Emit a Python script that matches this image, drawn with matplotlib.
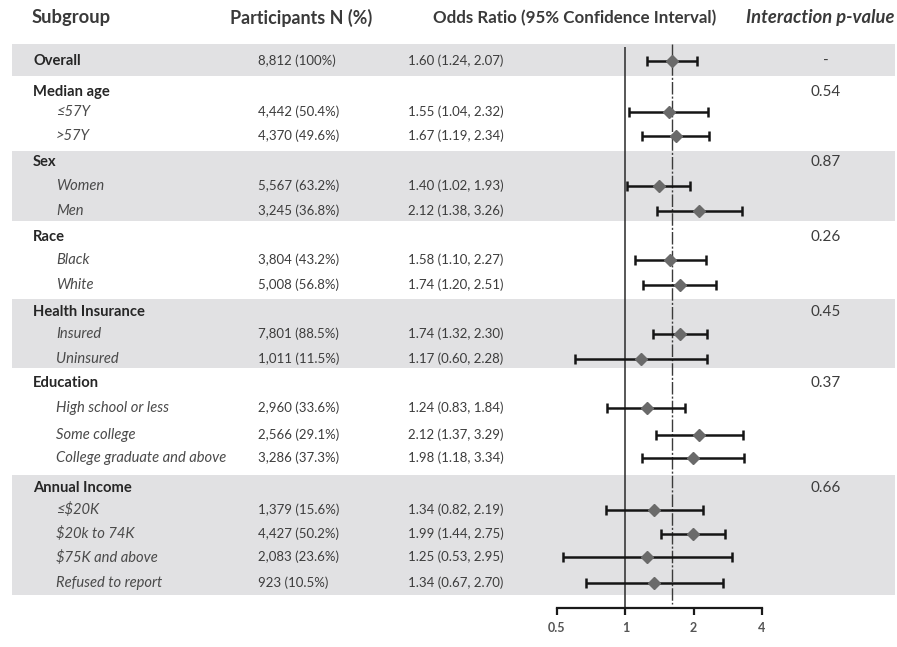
import matplotlib
matplotlib.use("Agg")
import matplotlib.pyplot as plt
import numpy as np

# ---------------- data ----------------
subgroups = ["Overall", "≤57Y", ">57Y", "Women", "Men", "Black", "White",
             "Insured", "Uninsured", "High school or less", "Some college",
             "College graduate and above", "≤$20K", "$20k to 74K",
             "$75K and above", "Refused to report"]
participants = ["8,812 (100%)", "4,442 (50.4%)", "4,370 (49.6%)", "5,567 (63.2%)",
                "3,245 (36.8%)", "3,804 (43.2%)", "5,008 (56.8%)", "7,801 (88.5%)",
                "1,011 (11.5%)", "2,960 (33.6%)", "2,566 (29.1%)", "3,286 (37.3%)",
                "1,379 (15.6%)", "4,427 (50.2%)", "2,083 (23.6%)", "923 (10.5%)"]
odds_ratio = [1.60, 1.55, 1.67, 1.40, 2.12, 1.58, 1.74, 1.74, 1.17, 1.24, 2.12,
              1.98, 1.34, 1.99, 1.25, 1.34]
ci_lower = [1.24, 1.04, 1.19, 1.02, 1.38, 1.10, 1.20, 1.32, 0.60, 0.83, 1.37,
            1.18, 0.82, 1.44, 0.53, 0.67]
ci_upper = [2.07, 2.32, 2.34, 1.93, 3.26, 2.27, 2.51, 2.30, 2.28, 1.84, 3.29,
            3.34, 2.19, 2.75, 2.95, 2.70]
group_names = ["Median age", "Sex", "Race", "Health Insurance", "Education",
               "Annual Income"]
interaction_p = ["0.54", "0.87", "0.26", "0.45", "0.37", "0.66"]
overall_p = "-"
x_ticks = [0.5, 1, 2, 4]
x_tick_labels = ["0.5", "1", "2", "4"]

# ---------------- layout (pixel rows) ----------------
W, H = 897, 647
row_y = [61, 112, 136, 186, 211, 260, 285, 334, 359, 408, 435, 458,
         510, 534, 557, 583]
group_y = [92, 162, 237, 312, 383, 488]
bands = [(44, 76), (151, 221), (299, 368), (475, 595)]
axis_y = 608

FONT = "Lato"
C_HEAD = "#3a3a3a"
C_GROUP = "#262626"
C_ITEM = "#4a4a4a"
C_NUM = "#3c3c3c"
BAND = "#e1e1e3"

fig = plt.figure(figsize=(W / 100, H / 100), dpi=100)
bg = fig.add_axes([0, 0, 1, 1])
bg.set_xlim(0, W)
bg.set_ylim(H, 0)
bg.axis("off")

for y0, y1 in bands:
    bg.axhspan(y0, y1, xmin=12 / W, xmax=895 / W, color=BAND, lw=0, zorder=0)

# header
bg.text(32, 18, "Subgroup", fontsize=13.2, fontweight="bold", color=C_HEAD,
        family=FONT, va="center", ha="left")
bg.text(230, 18, "Participants N (%)", fontsize=12.9, fontweight="bold",
        color=C_HEAD, family=FONT, va="center", ha="left")
bg.text(433, 18, "Odds Ratio (95% Confidence Interval)", fontsize=12.2,
        fontweight="bold", color=C_HEAD, family=FONT, va="center", ha="left")
bg.text(895, 18, "Interaction p-value", fontsize=13.2, fontweight="bold",
        style="italic", color=C_HEAD, family=FONT, va="center", ha="right")

bs = 9.5
ls = 10.6
for i, name in enumerate(subgroups):
    y = row_y[i]
    if i == 0:
        bg.text(33, y, name, fontsize=ls, fontweight="bold", color=C_GROUP,
                family=FONT, va="center", parse_math=False)
    else:
        bg.text(56, y, name, fontsize=ls, style="italic", color=C_ITEM,
                family=FONT, va="center", parse_math=False)
    bg.text(258, y, participants[i], fontsize=bs, color=C_NUM, family=FONT,
            va="center")
    bg.text(408, y, f"{odds_ratio[i]:.2f} ({ci_lower[i]:.2f}, {ci_upper[i]:.2f})",
            fontsize=bs, color=C_NUM, family=FONT, va="center")

for g, y, p in zip(group_names, group_y, interaction_p):
    bg.text(33, y, g, fontsize=ls, fontweight="bold", color=C_GROUP,
            family=FONT, va="center")
    bg.text(826, y, p, fontsize=11, color=C_NUM, family=FONT, va="center",
            ha="center")
bg.text(826, row_y[0], overall_p, fontsize=11, color=C_NUM, family=FONT,
        va="center", ha="center")

# ---------------- forest axes ----------------
x0, x1 = 557, 762
ax = fig.add_axes([x0 / W, (H - axis_y) / H, (x1 - x0) / W, axis_y / H])
ax.set_facecolor("none")
ax.set_xscale("log")
ax.set_xlim(x_ticks[0], x_ticks[-1])
ax.set_ylim(axis_y, 0)
for s in ["top", "left", "right"]:
    ax.spines[s].set_visible(False)
ax.spines["bottom"].set_linewidth(1.6)
ax.spines["bottom"].set_color("#1a1a1a")
ax.set_yticks([])
ax.set_xticks(x_ticks)
ax.set_xticklabels(x_tick_labels)
ax.xaxis.set_minor_locator(matplotlib.ticker.NullLocator())
ax.tick_params(axis="x", length=5, width=1.6, color="#1a1a1a", pad=5,
               labelsize=9, labelcolor="#555555")
for lab in ax.get_xticklabels():
    lab.set_family(FONT)
    lab.set_fontweight("bold")

ax.vlines(1, 47, axis_y, color="#2a2a2a", lw=1.1, zorder=2)
ax.vlines(odds_ratio[0], 44, axis_y - 4, color="#3a3a3a", lw=1.0,
          linestyles=(0, (9, 1.5, 1.5, 1.5)), zorder=2)

ax.errorbar(odds_ratio, row_y,
            xerr=[np.array(odds_ratio) - np.array(ci_lower),
                  np.array(ci_upper) - np.array(odds_ratio)],
            fmt="D", color="#6a6a6a", ms=6.5, mec="#6a6a6a",
            ecolor="#151515", elinewidth=1.8, capsize=3.5, capthick=1.8,
            zorder=3, clip_on=False)

fig.savefig("out.png", dpi=100)
